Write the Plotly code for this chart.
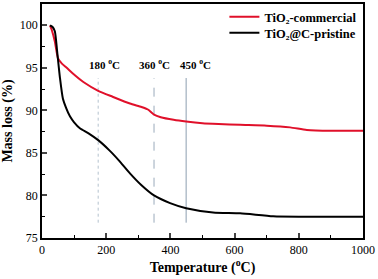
import plotly.graph_objects as go

temp_red = [25, 30, 40, 50, 62, 77, 97, 130, 175, 220, 274, 310, 330, 349, 370, 410, 449, 500, 550, 617, 700, 773, 825, 900, 1000]
mass_red = [100, 99.5, 98.1, 96.1, 95.5, 95.0, 94.3, 93.3, 92.3, 91.6, 90.8, 90.4, 90.1, 89.5, 89.2, 88.9, 88.7, 88.5, 88.4, 88.3, 88.2, 88.0, 87.7, 87.6, 87.6]

temp_blk = [25, 33, 40, 47, 56, 65, 75, 87, 100, 118, 145, 175, 210, 240, 274, 310, 349, 399, 449, 533, 617, 720, 804, 900, 1000]
mass_blk = [100, 99.8, 99.3, 97.0, 93.8, 91.4, 90.3, 89.3, 88.6, 87.9, 87.3, 86.5, 85.3, 84.1, 82.6, 81.2, 80.0, 79.1, 78.5, 78.0, 77.9, 77.55, 77.5, 77.5, 77.5]

marker_temps = [175, 349, 449]
marker_labels = ["180 <sup>o</sup>C", "360 <sup>o</sup>C", "450 <sup>o</sup>C"]
label_x = [196, 352, 478]
marker_dash = ["dot", "dash", "solid"]
marker_color = ["#b4c2cf", "#9aabbb", "#8c9eb0"]

font = "Liberation Serif, Times New Roman, serif"

fig = go.Figure()
for t, d, c in zip(marker_temps, marker_dash, marker_color):
    fig.add_trace(go.Scatter(x=[t, t], y=[76.8, 93.8], mode="lines",
                             line=dict(color=c, width=1, dash=d), showlegend=False, hoverinfo="skip"))

fig.add_trace(go.Scatter(x=temp_red, y=mass_red, mode="lines", name="<b>TiO₂-commercial</b>",
                         line=dict(color="#e0102a", width=2, shape="spline", smoothing=0.6), legend="legend"))
fig.add_trace(go.Scatter(x=temp_blk, y=mass_blk, mode="lines", name="<b>TiO₂@C-pristine</b>",
                         line=dict(color="black", width=2, shape="spline", smoothing=0.6), legend="legend2"))

for lx, lab in zip(label_x, marker_labels):
    fig.add_annotation(x=lx, y=95.4, text="<b>" + lab + "</b>", showarrow=False,
                       font=dict(family=font, size=11, color="black"))

leg_common = dict(xanchor="right", yanchor="middle", bgcolor="rgba(0,0,0,0)",
                  font=dict(family=font, size=12.5, color="black"), itemwidth=30)
fig.update_layout(
    width=378, height=279,
    margin=dict(l=42, r=15, t=3, b=41),
    paper_bgcolor="white", plot_bgcolor="white",
    font=dict(family=font, color="black"),
    legend=dict(x=0.995, y=0.94, **leg_common),
    legend2=dict(x=0.995, y=0.872, **leg_common),
)
fig.update_xaxes(range=[0, 1000], dtick=200, tick0=0, ticks="inside", ticklen=5, tickwidth=1.5,
                 minor=dict(dtick=100, ticks="inside", ticklen=3, tickwidth=1.2, tickcolor="black"),
                 showline=True, linecolor="black", linewidth=1.5, mirror=True, showgrid=False, zeroline=False,
                 tickfont=dict(family=font, size=12),
                 title=dict(text="<b>Temperature (<sup>o</sup>C)</b>", font=dict(family=font, size=14), standoff=4))
fig.update_yaxes(range=[75, 102.5], dtick=5, tick0=75, ticks="inside", ticklen=5, tickwidth=1.5,
                 minor=dict(dtick=2.5, ticks="inside", ticklen=3, tickwidth=1.2, tickcolor="black"),
                 showline=True, linecolor="black", linewidth=1.5, mirror=True, showgrid=False, zeroline=False,
                 tickfont=dict(family=font, size=12),
                 title=dict(text="<b>Mass loss (%)</b>", font=dict(family=font, size=14), standoff=4))

fig.write_html("out.html", config={"displayModeBar": False},
               post_script="document.body.style.margin='0';document.body.style.overflow='hidden';")
